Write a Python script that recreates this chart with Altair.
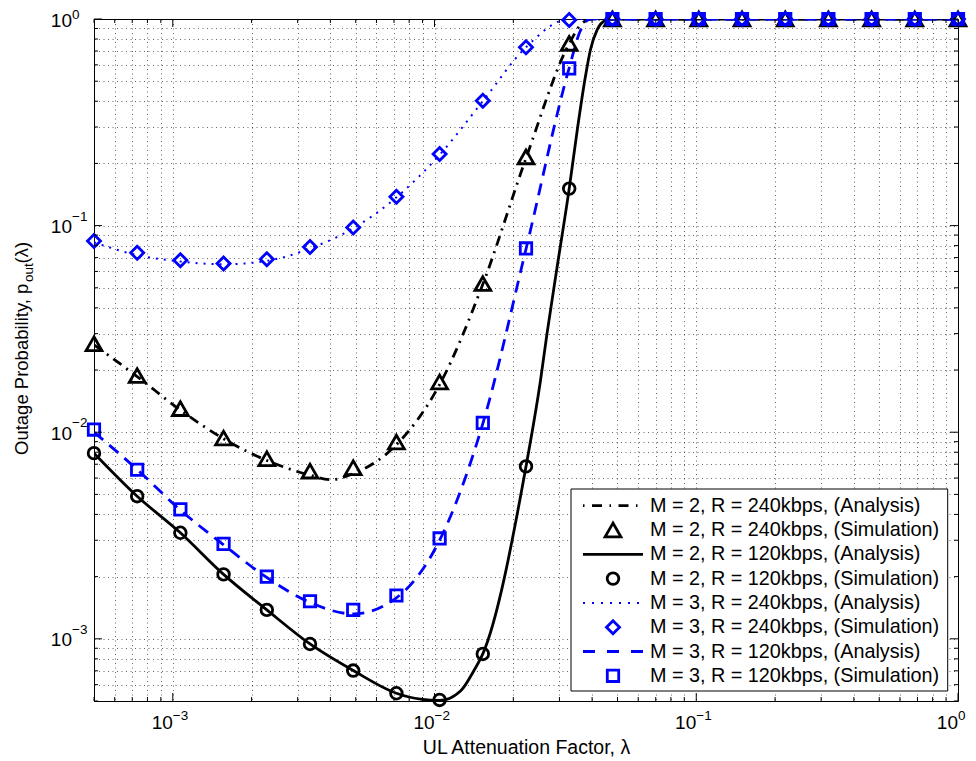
import altair as alt
import pandas as pd

# ---------------- data ----------------
# attenuation factor lambda at the simulation points
lam = [0.0005, 0.000731, 0.001069, 0.001563, 0.002287, 0.003344, 0.00489,
       0.007151, 0.010456, 0.015292, 0.022361, 0.0327, 0.04782, 0.06993,
       0.10226, 0.14953, 0.21867, 0.31976, 0.4676, 0.68379, 1.0]

# simulation markers
sim_m2_240 = [0.0268, 0.0188, 0.0130, 0.00937, 0.00744, 0.00648, 0.00673,
              0.00896, 0.0175, 0.0524, 0.215, 0.762, 1, 1, 1, 1, 1, 1, 1, 1, 1]
sim_m2_120 = [0.00792, 0.00490, 0.00326, 0.00205, 0.00138, 0.000944, 0.000702,
              0.000545, 0.000506, 0.000845, 0.00683, 0.151, 1, 1, 1, 1, 1, 1, 1, 1, 1]
sim_m3_240 = [0.0843, 0.0738, 0.0680, 0.0655, 0.0688, 0.0788, 0.098, 0.138,
              0.222, 0.402, 0.729, 0.99, 1, 1, 1, 1, 1, 1, 1, 1, 1]
sim_m3_120 = [0.0103, 0.00658, 0.00423, 0.00288, 0.00200, 0.00152, 0.00138,
              0.00162, 0.00306, 0.0111, 0.0775, 0.577, 1, 1, 1, 1, 1, 1, 1, 1, 1]

# analysis curves (denser where the curves bend)
ana_m2_240_x = [0.0005, 0.000731, 0.001069, 0.001563, 0.002287, 0.003344, 0.00401,
                0.00489, 0.007151, 0.010456, 0.015292, 0.022361, 0.0327, 0.0365,
                0.0400, 0.04782, 0.10226, 1.0]
ana_m2_240_y = [0.0265, 0.0186, 0.0128, 0.0093, 0.0073, 0.0062, 0.00589,
                0.0063, 0.0087, 0.0170, 0.052, 0.212, 0.76, 0.95,
                1.0, 1.0, 1.0, 1.0]

ana_m2_120_x = [0.0005, 0.000731, 0.001069, 0.001563, 0.002287, 0.003344, 0.00489,
                0.007151, 0.00884, 0.010456, 0.0126, 0.01413, 0.015292, 0.022361,
                0.0254, 0.0269, 0.0294, 0.0327, 0.0351, 0.0377, 0.0394, 0.0418,
                0.0450, 0.04782, 0.10226, 1.0]
ana_m2_120_y = [0.00792, 0.00490, 0.00326, 0.00205, 0.00138, 0.000944, 0.000702,
                0.000545, 0.000510, 0.000503, 0.000561, 0.000701, 0.000845, 0.00683,
                0.0178, 0.030, 0.063, 0.151, 0.290, 0.525, 0.708, 0.885,
                0.985, 1.0, 1.0, 1.0]

ana_m3_240_x = [0.0005, 0.000731, 0.001069, 0.001563, 0.002287, 0.003344, 0.00489,
                0.007151, 0.010456, 0.015292, 0.022361, 0.0327, 0.04782, 0.10226, 1.0]
ana_m3_240_y = [0.083, 0.072, 0.0670, 0.0650, 0.0675, 0.0775, 0.097,
                0.137, 0.220, 0.40, 0.73, 1.0, 1.0, 1.0, 1.0]

ana_m3_120_x = [0.0005, 0.000731, 0.001069, 0.001563, 0.002287, 0.003344, 0.00489,
                0.007151, 0.010456, 0.015292, 0.022361, 0.0327, 0.0361, 0.0394,
                0.04782, 0.10226, 1.0]
ana_m3_120_y = [0.0100, 0.0066, 0.0042, 0.00285, 0.00198, 0.00150, 0.00132,
                0.00158, 0.0030, 0.0110, 0.077, 0.58, 0.88, 1.0,
                1.0, 1.0, 1.0]

legend_labels = [
    "M = 2, R = 240kbps, (Analysis)",
    "M = 2, R = 240kbps, (Simulation)",
    "M = 2, R = 120kbps, (Analysis)",
    "M = 2, R = 120kbps, (Simulation)",
    "M = 3, R = 240kbps, (Analysis)",
    "M = 3, R = 240kbps, (Simulation)",
    "M = 3, R = 120kbps, (Analysis)",
    "M = 3, R = 120kbps, (Simulation)",
]

decades = [0.001, 0.01, 0.1, 1.0]
decade_exp = ["\u22123", "\u22122", "\u22121", "0"]
x_minor = [m * 10.0 ** e for e in (-4, -3, -2, -1) for m in range(1, 10)
           if 5e-4 <= m * 10.0 ** e <= 1 and m != 1]
y_minor = list(x_minor)
x_grid = sorted(x_minor + decades)
y_grid = sorted(y_minor + decades)

y_title_main = "Outage Probability, p"
y_title_sub = "out"
y_title_end = "(\u03bb)"

# ---------------- layout ----------------
W, H = 864, 682
FONT = "Liberation Sans"
BLACK = "#000000"
BLUE = "#0000ff"

xscale = alt.Scale(type="log", domain=[5e-4, 1], nice=False)
yscale = alt.Scale(type="log", domain=[5e-4, 1], nice=False)

xaxis = alt.Axis(values=x_grid, grid=True, gridDash=[1, 3.5], gridColor=BLACK,
                 gridOpacity=0.6, gridWidth=1, ticks=False, labels=False,
                 domain=False, title="UL Attenuation Factor, \u03bb",
                 titleFont=FONT, titleFontSize=19.5, titleFontWeight="normal",
                 titleColor=BLACK, titlePadding=37)
yaxis = alt.Axis(values=y_grid, grid=True, gridDash=[1, 3.5], gridColor=BLACK,
                 gridOpacity=0.6, gridWidth=1, ticks=False, labels=False,
                 domain=False, title="")

X = alt.X("x:Q", scale=xscale, axis=xaxis)
Y = alt.Y("y:Q", scale=yscale, axis=yaxis)


def frame(xs, ys):
    return pd.DataFrame({"x": xs, "y": ys})


def line(xs, ys, color, dash, width):
    kw = dict(color=color, strokeWidth=width, interpolate="monotone", clip=True)
    if dash:
        kw["strokeDash"] = dash
    return alt.Chart(frame(xs, ys)).mark_line(**kw).encode(x=X, y=Y)


def points(xs, ys, color, shape, size):
    return alt.Chart(frame(xs, ys)).mark_point(
        shape=shape, size=size, color=color, filled=False, strokeWidth=2.8,
        opacity=1).encode(x=X, y=Y)


SZ = {"triangle-up": 250, "circle": 135, "square": 130, "diamond": 170}

layers = [
    line(ana_m2_240_x, ana_m2_240_y, BLACK, [10, 6, 2, 6], 2.8),
    line(ana_m2_120_x, ana_m2_120_y, BLACK, None, 2.8),
    line(ana_m3_240_x, ana_m3_240_y, BLUE, [2, 6], 2),
    line(ana_m3_120_x, ana_m3_120_y, BLUE, [12, 8], 2.8),
    points(lam, sim_m2_240, BLACK, "triangle-up", SZ["triangle-up"]),
    points(lam, sim_m2_120, BLACK, "circle", SZ["circle"]),
    points(lam, sim_m3_120, BLUE, "square", SZ["square"]),
    points(lam, sim_m3_240, BLUE, "diamond", SZ["diamond"]),
]

# inward tick marks on all four sides
xt_major = pd.DataFrame({"x": decades})
xt_minor = pd.DataFrame({"x": x_minor})
yt_major = pd.DataFrame({"y": decades})
yt_minor = pd.DataFrame({"y": y_minor})
for df, L in ((xt_major, 8), (xt_minor, 4)):
    layers.append(alt.Chart(df).mark_rule(color=BLACK, strokeWidth=1).encode(
        x=X, y=alt.value(H), y2=alt.value(H - L)))
    layers.append(alt.Chart(df).mark_rule(color=BLACK, strokeWidth=1).encode(
        x=X, y=alt.value(0), y2=alt.value(L)))
for df, L in ((yt_major, 8), (yt_minor, 4)):
    layers.append(alt.Chart(df).mark_rule(color=BLACK, strokeWidth=1).encode(
        y=Y, x=alt.value(0), x2=alt.value(L)))
    layers.append(alt.Chart(df).mark_rule(color=BLACK, strokeWidth=1).encode(
        y=Y, x=alt.value(W), x2=alt.value(W - L)))

# tick labels: "10" plus a superscript exponent
xlab = pd.DataFrame({"x": decades, "e": decade_exp})
ylab = pd.DataFrame({"y": decades, "e": decade_exp})
layers += [
    alt.Chart(xlab).mark_text(align="right", baseline="middle", font=FONT,
                              fontSize=19, color=BLACK).encode(
        x=X, y=alt.value(H + 22), text=alt.value("10")),
    alt.Chart(xlab).mark_text(align="left", baseline="middle", font=FONT,
                              fontSize=13.5, color=BLACK).encode(
        x=X, y=alt.value(H + 15), text="e:N"),
    alt.Chart(ylab).mark_text(align="right", baseline="middle", font=FONT,
                              fontSize=19, color=BLACK, dy=1.5).encode(
        y=Y, x=alt.value(-22), text=alt.value("10")),
    alt.Chart(ylab.iloc[:3]).mark_text(align="left", baseline="middle", font=FONT,
                                       fontSize=13.5, color=BLACK, dy=-9).encode(
        y=Y, x=alt.value(-22), text="e:N"),
    alt.Chart(ylab.iloc[3:]).mark_text(align="left", baseline="middle", font=FONT,
                                       fontSize=13.5, color=BLACK, dy=-4.5).encode(
        y=Y, x=alt.value(-22), text="e:N"),
]

# y title with a real subscript, written bottom-to-top
yt = pd.DataFrame({"main": [y_title_main], "sub": [y_title_sub], "end": [y_title_end]})
TY0 = 436
MAIN_LEN = 173
SUB_LEN = 18.5
layers += [
    alt.Chart(yt).mark_text(align="left", baseline="alphabetic", angle=270, font=FONT,
                            fontSize=18.5, color=BLACK).encode(
        x=alt.value(-66), y=alt.value(TY0), text="main:N"),
    alt.Chart(yt).mark_text(align="left", baseline="alphabetic", angle=270, font=FONT,
                            fontSize=13.5, color=BLACK).encode(
        x=alt.value(-61.5), y=alt.value(TY0 - MAIN_LEN), text="sub:N"),
    alt.Chart(yt).mark_text(align="left", baseline="alphabetic", angle=270, font=FONT,
                            fontSize=18.5, color=BLACK).encode(
        x=alt.value(-66), y=alt.value(TY0 - MAIN_LEN - SUB_LEN), text="end:N"),
]

main = alt.layer(*layers)

# ---------------- legend ----------------
leg_df = pd.DataFrame({"row": list(range(len(legend_labels))), "label": legend_labels})
R = alt.Y("row:Q", scale=alt.Scale(domain=[0, 7], range=[486.7, 656.8]), axis=None)
LX0, LX1, LXM, LXT = 489, 549, 519, 556


def leg_row(i):
    return alt.Chart(leg_df.iloc[[i]])


def leg_point(i, shape, color):
    return leg_row(i).mark_point(shape=shape, size=SZ[shape], color=color, filled=False,
                                 strokeWidth=2.8, opacity=1).encode(x=alt.value(LXM), y=R)


leg_layers = [
    alt.Chart(leg_df.iloc[[0]]).mark_rect(fill="white", stroke=BLACK, strokeWidth=1).encode(
        x=alt.value(477), x2=alt.value(853.7), y=alt.value(470), y2=alt.value(672)),
    leg_row(0).mark_rule(color=BLACK, strokeWidth=2.8, strokeDash=[1.5, 7.5, 10, 7.5]).encode(
        x=alt.value(LX0), x2=alt.value(LX1), y=R),
    leg_point(1, "triangle-up", BLACK),
    leg_row(2).mark_rule(color=BLACK, strokeWidth=2.8).encode(
        x=alt.value(LX0), x2=alt.value(LX1), y=R),
    leg_point(3, "circle", BLACK),
    leg_row(4).mark_rule(color=BLUE, strokeWidth=2, strokeDash=[2, 7]).encode(
        x=alt.value(LX0), x2=alt.value(LX1), y=R),
    leg_point(5, "diamond", BLUE),
    leg_row(6).mark_rule(color=BLUE, strokeWidth=2.8, strokeDash=[12, 12]).encode(
        x=alt.value(LX0), x2=alt.value(LX1), y=R),
    leg_point(7, "square", BLUE),
    alt.Chart(leg_df).mark_text(align="left", baseline="middle", font=FONT,
                                fontSize=19.8, color=BLACK).encode(
        x=alt.value(LXT), y=R, text="label:N"),
]
legend = alt.layer(*leg_layers)

chart = alt.layer(main, legend).resolve_scale(y="independent").properties(
    width=W, height=H,
    padding={"left": 86, "top": 11, "right": 10, "bottom": 56},
    autosize=alt.AutoSizeParams(type="none"),
    background="white",
).configure_view(stroke=BLACK, strokeWidth=1)

chart.save("out.html", embed_options={"renderer": "svg", "actions": False})
